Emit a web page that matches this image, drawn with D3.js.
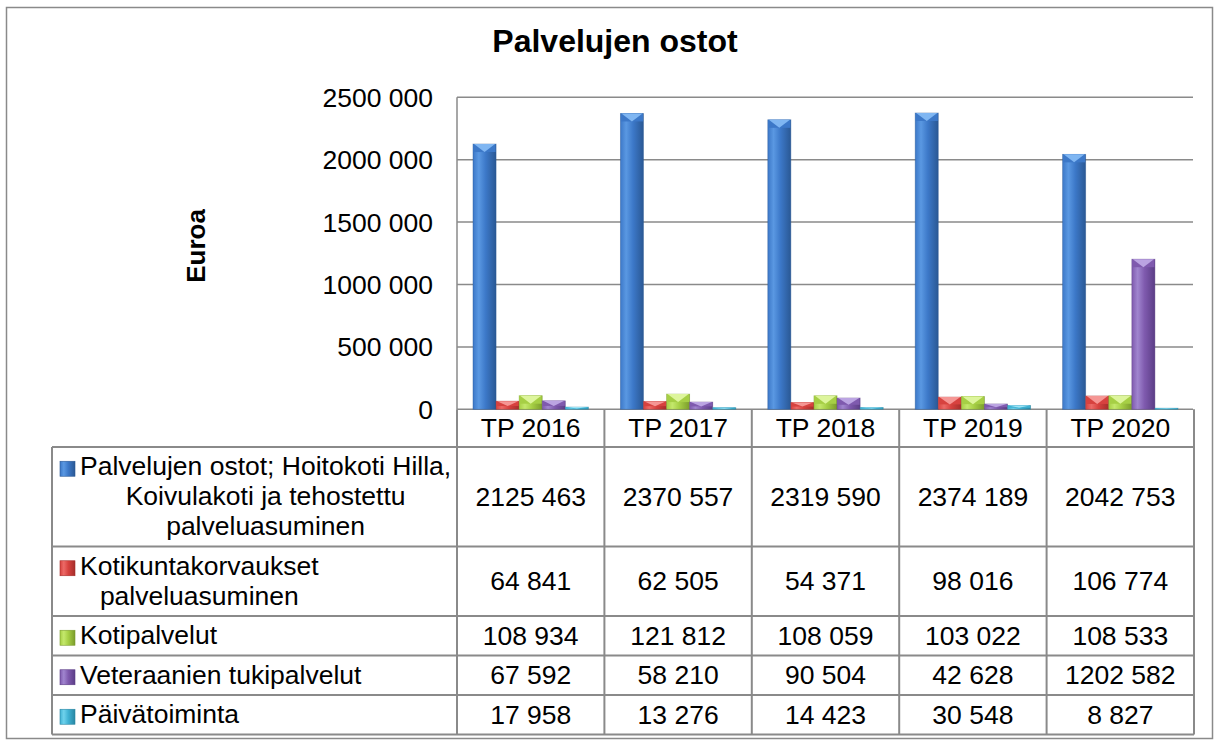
<!DOCTYPE html>
<html>
<head>
<meta charset="utf-8">
<script src="https://cdn.jsdelivr.net/npm/d3@7"></script>
<style>
  body { margin: 0; background: #fff; }
  text { font-family: "Liberation Sans", Arial, sans-serif; fill: #000; }
</style>
</head>
<body>
<script>
// Chart size
let width = 1214;
let height = 740;

// Data
const categories = ["TP 2016", "TP 2017", "TP 2018", "TP 2019", "TP 2020"];
const seriesNames = [
  "Palvelujen ostot; Hoitokoti Hilla, Koivulakoti ja tehostettu palveluasuminen",
  "Kotikuntakorvaukset palveluasuminen",
  "Kotipalvelut",
  "Veteraanien tukipalvelut",
  "Päivätoiminta"
];
const seriesLines = [
  ["Palvelujen ostot; Hoitokoti Hilla,", "Koivulakoti ja tehostettu", "palveluasuminen"],
  ["Kotikuntakorvaukset", "palveluasuminen"],
  ["Kotipalvelut"],
  ["Veteraanien tukipalvelut"],
  ["Päivätoiminta"]
];
const hoitokotiValues = [2125463, 2370557, 2319590, 2374189, 2042753];
const kotikuntaValues = [64841, 62505, 54371, 98016, 106774];
const kotipalveluValues = [108934, 121812, 108059, 103022, 108533];
const veteraaniValues = [67592, 58210, 90504, 42628, 1202582];
const paivatoimintaValues = [17958, 13276, 14423, 30548, 8827];
const seriesValues = [hoitokotiValues, kotikuntaValues, kotipalveluValues, veteraaniValues, paivatoimintaValues];

const tickValues = [0, 500000, 1000000, 1500000, 2000000, 2500000];
const tickLabels = ["0", "500 000", "1000 000", "1500 000", "2000 000", "2500 000"];

// Colours (light, mid, dark, bevel) per series
const seriesColors = [
  ["#5a98e2", "#3c78c8", "#2a5894", "#7fb6f2"],
  ["#ec6a67", "#d7423f", "#a52e2b", "#f59694"],
  ["#c4e86c", "#a6cf45", "#7b9c2c", "#ddf59c"],
  ["#a085cf", "#7f5aae", "#5b3d86", "#bba4e2"],
  ["#6fd2ec", "#40b2d4", "#2886a2", "#9ee4f6"]
];
let grid_color = "#8a8a8a";

let svg = d3.select("body")
  .append("svg")
  .attr("width", width)
  .attr("height", height);

// gradients
let defs = svg.append("defs");
seriesColors.forEach((c, i) => {
  let g = defs.append("linearGradient")
    .attr("id", "grad" + i)
    .attr("x1", "0%").attr("x2", "100%").attr("y1", "0%").attr("y2", "0%");
  g.append("stop").attr("offset", "0%").attr("stop-color", c[1]);
  g.append("stop").attr("offset", "25%").attr("stop-color", c[0]);
  g.append("stop").attr("offset", "55%").attr("stop-color", c[1]);
  g.append("stop").attr("offset", "100%").attr("stop-color", c[2]);
});

// outer frame
svg.append("rect")
  .attr("x", 6.5).attr("y", 7.5)
  .attr("width", 1206).attr("height", 731)
  .attr("fill", "none")
  .attr("stroke", grid_color)
  .attr("stroke-width", 1.5);

// title
svg.append("text")
  .attr("x", 615).attr("y", 52)
  .attr("text-anchor", "middle")
  .style("font-size", "32px")
  .style("font-weight", "bold")
  .text("Palvelujen ostot");

// scales
const plot = {left: 457, right: 1194, top: 97.3, bottom: 409.3};

const x0 = d3.scaleBand()
  .domain(categories)
  .range([plot.left, plot.right])
  .paddingInner(0.217)
  .paddingOuter(0.1085);

const x1 = d3.scaleBand()
  .domain(d3.range(seriesNames.length))
  .range([0, x0.bandwidth()]);

const y = d3.scaleLinear()
  .domain([0, 2500000])
  .range([plot.bottom, plot.top]);

// gridlines
svg.append("g")
  .selectAll("line")
  .data(tickValues)
  .enter().append("line")
  .attr("x1", plot.left).attr("x2", plot.right - 1)
  .attr("y1", d => y(d)).attr("y2", d => y(d))
  .attr("stroke", grid_color)
  .attr("stroke-width", 1.5);

svg.append("line")
  .attr("x1", plot.left).attr("x2", plot.left)
  .attr("y1", plot.top).attr("y2", plot.bottom)
  .attr("stroke", grid_color)
  .attr("stroke-width", 1.5);

// tick labels
svg.append("g")
  .selectAll("text")
  .data(tickValues)
  .enter().append("text")
  .attr("x", 433)
  .attr("y", d => y(d) + 9.4)
  .attr("text-anchor", "end")
  .style("font-size", "26.5px")
  .text((d, i) => tickLabels[i]);

// axis title
svg.append("text")
  .attr("transform", "translate(205,246) rotate(-90)")
  .attr("text-anchor", "middle")
  .style("font-size", "26px")
  .style("font-weight", "bold")
  .text("Euroa");

// bars
const barData = [];
categories.forEach((c, ci) => {
  seriesValues.forEach((vals, si) => {
    barData.push({category: c, series: si, value: vals[ci]});
  });
});

let bars = svg.append("g")
  .selectAll("g")
  .data(barData)
  .enter().append("g")
  .attr("transform", d => `translate(${x0(d.category) + x1(d.series)},0)`);

bars.append("rect")
  .attr("x", 0)
  .attr("y", d => y(d.value))
  .attr("width", x1.bandwidth())
  .attr("height", d => plot.bottom - y(d.value))
  .attr("fill", d => `url(#grad${d.series})`)
  .attr("stroke", d => seriesColors[d.series][2])
  .attr("stroke-opacity", 0.5)
  .attr("stroke-width", 0.8);

// bevelled top: mid-coloured band with a light inverted triangle
bars.append("rect")
  .attr("x", 0.5)
  .attr("y", d => y(d.value))
  .attr("width", x1.bandwidth() - 1)
  .attr("height", d => Math.min(8, (plot.bottom - y(d.value)) * 0.6))
  .attr("fill", d => seriesColors[d.series][1]);

bars.append("path")
  .attr("d", d => {
    const w = x1.bandwidth();
    const h = Math.min(8, (plot.bottom - y(d.value)) * 0.6);
    const t = y(d.value);
    return `M1,${t}L${w - 1},${t}L${w / 2},${t + h}Z`;
  })
  .attr("fill", d => seriesColors[d.series][3]);

// table
const tableLeft = 52;
const headerBottom = 447;
const lineH = 30;
const rowPad = 9.5;
const textFont = 26.5;
let rowTops = [];
let acc = headerBottom;
seriesLines.forEach(lines => {
  rowTops.push(acc);
  acc += lines.length * lineH + rowPad;
});
const tableBottom = acc;

let table = svg.append("g");

// horizontal lines
table.selectAll(".hline")
  .data(rowTops.concat([tableBottom]))
  .enter().append("line")
  .attr("x1", tableLeft).attr("x2", plot.right)
  .attr("y1", d => d).attr("y2", d => d)
  .attr("stroke", grid_color)
  .attr("stroke-width", 2);

// vertical lines
const colEdges = categories.map(c => x0(c) - x0.step() * x0.paddingInner() / 2)
  .concat([plot.right]);
table.selectAll(".vline")
  .data(colEdges)
  .enter().append("line")
  .attr("x1", d => d).attr("x2", d => d)
  .attr("y1", plot.bottom).attr("y2", tableBottom)
  .attr("stroke", grid_color)
  .attr("stroke-width", 2);

table.append("line")
  .attr("x1", tableLeft).attr("x2", tableLeft)
  .attr("y1", headerBottom).attr("y2", tableBottom)
  .attr("stroke", grid_color)
  .attr("stroke-width", 2);

// header labels
table.selectAll(".head")
  .data(categories)
  .enter().append("text")
  .attr("x", d => x0(d) + x0.bandwidth() / 2)
  .attr("y", (plot.bottom + headerBottom) / 2 + 9)
  .attr("text-anchor", "middle")
  .style("font-size", textFont + "px")
  .text(d => d);

function fmt(v) {
  if (v < 1000) return String(v);
  return Math.floor(v / 1000) + " " + String(v % 1000).padStart(3, "0");
}

// row labels and values
seriesLines.forEach((lines, si) => {
  const top = rowTops[si];
  const h = lines.length * lineH + rowPad;
  const cy = top + h / 2;
  const firstBase = cy - (lines.length - 1) / 2 * lineH + 8.5;

  // legend key
  table.append("rect")
    .attr("x", 60).attr("y", firstBase - 14)
    .attr("width", 15).attr("height", 15)
    .attr("fill", `url(#grad${si})`)
    .attr("stroke", seriesColors[si][2])
    .attr("stroke-width", 0.6);

  // label lines, centred on the widest line
  let txt = table.append("g");
  let tmp = txt.selectAll("text")
    .data(lines)
    .enter().append("text")
    .attr("y", (d, i) => firstBase + i * lineH)
    .style("font-size", textFont + "px")
    .text(d => d);
  let widths = [];
  tmp.each(function() { widths.push(this.getComputedTextLength()); });
  const maxW = d3.max(widths);
  if (lines.length > 1) {
    tmp.attr("x", 80 + maxW / 2).attr("text-anchor", "middle");
  } else {
    tmp.attr("x", 80);
  }

  // values
  table.selectAll(".v" + si)
    .data(categories)
    .enter().append("text")
    .attr("x", d => x0(d) + x0.bandwidth() / 2)
    .attr("y", cy + 9)
    .attr("text-anchor", "middle")
    .style("font-size", textFont + "px")
    .text((d, ci) => fmt(seriesValues[si][ci]));
});
</script>
</body>
</html>
